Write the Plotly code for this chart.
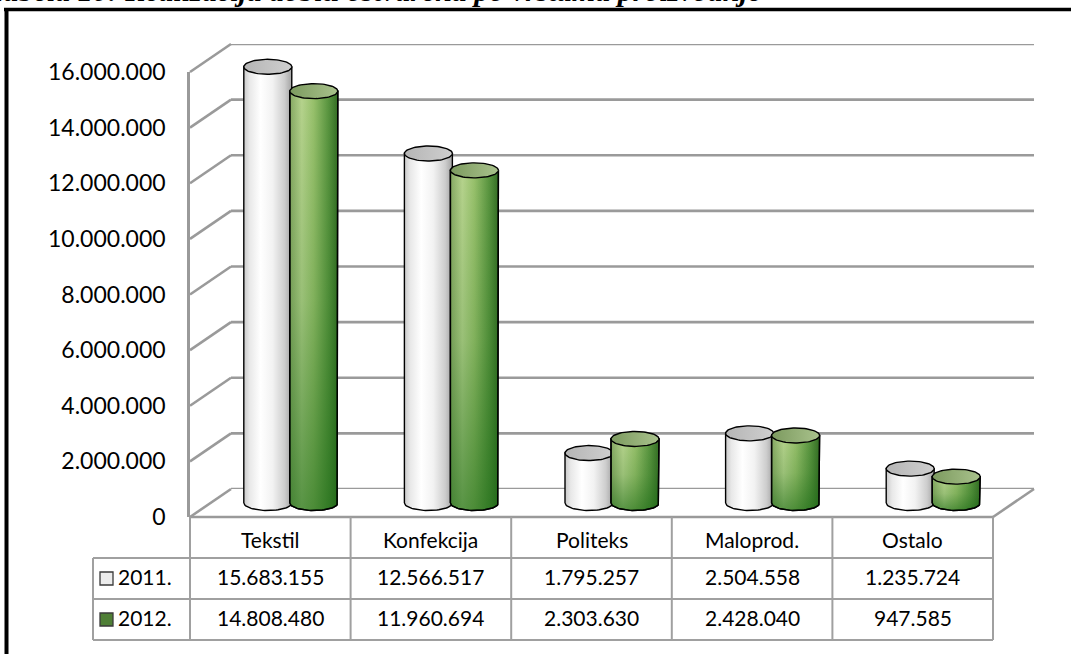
import numpy as np
import plotly.graph_objects as go

# ---- data -------------------------------------------------------------
categories = ["Tekstil", "Konfekcija", "Politeks", "Maloprod.", "Ostalo"]
series_names = ["2011.", "2012."]
values_2011 = [15683155, 12566517, 1795257, 2504558, 1235724]
values_2012 = [14808480, 11960694, 2303630, 2428040, 947585]
y_ticks = [0, 2000000, 4000000, 6000000, 8000000, 10000000, 12000000, 14000000, 16000000]
title_text = "Tabela 10: Realizacija dobiti ostvarena po vrstama proizvodnje"

# ---- page geometry (pixels) -------------------------------------------
W, H = 1071, 654
FLOOR_Y, TOP_Y = 517, 72          # front edge of the floor / 16.000.000
LEFT_X, RIGHT_X = 190, 993        # front edge of the category band
DX, DY = 41, 28                   # depth of the 3-D box
Y_MAX = 16000000
Y_LOW = -800000                   # room under the floor for the cylinder bases
GRID = "#9a9a9a"
FONT = "Lato"
TXT_SHIFT = -11                   # vertical nudge for Lato text boxes


def px(p):
    return p / W


def py(p):
    return 1 - p / H


def fmt(v):
    return f"{v:,}".replace(",", ".")


px_per_cat = (RIGHT_X - LEFT_X) / len(categories)
px_per_val = (FLOOR_Y - TOP_Y) / Y_MAX


def val_to_px(v):
    return FLOOR_Y - v * px_per_val


fig = go.Figure()

# back wall gridlines (frame x/y sits at full depth)
gx, gy = [], []
for tv in y_ticks:
    gx += [-0.5, 4.5, None]
    gy += [tv, tv, None]
fig.add_trace(go.Scatter(x=gx, y=gy, mode="lines", line=dict(color=GRID, width=2.6),
                         hoverinfo="skip", showlegend=False, xaxis="x", yaxis="y"))

# cylinders (frame x3/y3 sits at mid depth)
half_w = 24 / px_per_cat
half_gap = 23 / px_per_cat
ell_b = 7.5 / px_per_val
t = np.linspace(0, np.pi, 40)
t_full = np.linspace(0, 2 * np.pi, 80)

white_body = [[0, "#c9c9c9"], [0.12, "#e8e8e8"], [0.35, "#ffffff"], [0.6, "#f2f2f2"],
              [0.85, "#cdcdcd"], [1, "#a3a3a3"]]
green_body = [[0, "#86a863"], [0.25, "#b6d38d"], [0.5, "#97c06b"], [0.8, "#5a9540"],
              [1, "#346d24"]]
green_shade = [[0, "rgba(25,105,20,0.6)"], [0.5, "rgba(25,105,20,0.18)"], [1, "rgba(25,105,20,0)"]]
white_top = [[0, "#b5b5b5"], [1, "#cfcfcf"]]
green_top = [[0, "#7c9a5f"], [1, "#a9c28c"]]

series = [(values_2011, -half_gap, white_body, None, white_top),
          (values_2012, half_gap, green_body, green_shade, green_top)]

for i in range(len(categories)):
    for vals, off, body_cs, shade_cs, top_cs in series:
        v = vals[i]
        cx = i + off
        bx = [cx - half_w, cx - half_w, cx + half_w, cx + half_w] + list(cx + half_w * np.cos(t))
        by = [0, v, v, 0] + list(-ell_b * np.sin(t))
        fig.add_trace(go.Scatter(x=bx, y=by, mode="lines", fill="toself",
                                 fillgradient=dict(type="horizontal", colorscale=body_cs),
                                 line=dict(color="black", width=1.4),
                                 hoverinfo="skip", showlegend=False, xaxis="x3", yaxis="y3"))
        if shade_cs is not None:
            fig.add_trace(go.Scatter(x=bx, y=by, mode="none", fill="toself",
                                     fillgradient=dict(type="vertical", colorscale=shade_cs),
                                     hoverinfo="skip", showlegend=False, xaxis="x3", yaxis="y3"))
            fig.add_trace(go.Scatter(x=bx, y=by, mode="lines",
                                     line=dict(color="black", width=1.4),
                                     hoverinfo="skip", showlegend=False, xaxis="x3", yaxis="y3"))
        ex = cx + half_w * np.cos(t_full)
        ey = v + ell_b * np.sin(t_full)
        fig.add_trace(go.Scatter(x=ex, y=ey, mode="lines", fill="toself",
                                 fillgradient=dict(type="horizontal", colorscale=top_cs),
                                 line=dict(color="black", width=1.4),
                                 hoverinfo="skip", showlegend=False, xaxis="x3", yaxis="y3"))

shapes = []
# side wall diagonals, one per value tick
for tv in y_ticks:
    yp = val_to_px(tv)
    shapes.append(dict(type="line", xref="paper", yref="paper",
                       x0=px(LEFT_X), x1=px(LEFT_X + DX), y0=py(yp), y1=py(yp - DY),
                       line=dict(color=GRID, width=2.6), layer="below"))
# floor right edge
shapes.append(dict(type="line", xref="paper", yref="paper",
                   x0=px(RIGHT_X), x1=px(RIGHT_X + DX), y0=py(FLOOR_Y), y1=py(FLOOR_Y - DY),
                   line=dict(color=GRID, width=2.6), layer="below"))

# data table grid
TBL = "#a0a0a0"
ROW_Y = [517, 558, 599, 640]
LEG_X = 93
shapes.append(dict(type="line", xref="paper", x0=px(LEFT_X), x1=px(RIGHT_X), yref="paper",
                   y0=py(ROW_Y[0]), y1=py(ROW_Y[0]), line=dict(color=GRID, width=2.6)))
for ry in ROW_Y[1:]:
    shapes.append(dict(type="line", xref="paper", x0=px(LEG_X), x1=px(RIGHT_X), yref="paper",
                       y0=py(ry), y1=py(ry), line=dict(color=TBL, width=2)))
for k in range(len(categories) + 1):
    xk = LEFT_X + k * px_per_cat
    shapes.append(dict(type="line", xref="paper", x0=px(xk), x1=px(xk), yref="paper",
                       y0=py(ROW_Y[0]), y1=py(ROW_Y[3]), line=dict(color=TBL, width=2)))
shapes.append(dict(type="line", xref="paper", x0=px(LEG_X), x1=px(LEG_X), yref="paper",
                   y0=py(ROW_Y[1]), y1=py(ROW_Y[3]), line=dict(color=TBL, width=2)))

# legend keys inside the table
key_fill = ["#ececec", "#4f7f36"]
for r in range(2):
    cy = (ROW_Y[r + 1] + ROW_Y[r + 2]) / 2
    shapes.append(dict(type="rect", xref="paper", yref="paper",
                       x0=px(100), x1=px(113), y0=py(cy - 6.5), y1=py(cy + 6.5),
                       fillcolor=key_fill[r], line=dict(color="#3a3a3a", width=1.3)))

# outer black frame
shapes.append(dict(type="line", xref="paper", yref="paper", x0=px(4), x1=px(W + 5),
                   y0=py(9.5), y1=py(9.5), line=dict(color="black", width=3.5)))
shapes.append(dict(type="line", xref="paper", yref="paper", x0=px(6.5), x1=px(6.5),
                   y0=py(8), y1=py(H + 5), line=dict(color="black", width=4)))

annotations = []
cell_font = dict(family=FONT, size=21, color="black")
for i, c in enumerate(categories):
    annotations.append(dict(x=i, xref="x2", y=py((ROW_Y[0] + ROW_Y[1]) / 2 + 5), yref="paper",
                            yshift=TXT_SHIFT, text=c, showarrow=False, font=cell_font))
    for r, vals in enumerate([values_2011, values_2012]):
        annotations.append(dict(x=i, xref="x2", y=py((ROW_Y[r + 1] + ROW_Y[r + 2]) / 2 + 1),
                                yref="paper", yshift=TXT_SHIFT, text=fmt(vals[i]),
                                showarrow=False, font=cell_font))
for r, name in enumerate(series_names):
    annotations.append(dict(x=px(116), xref="paper", xanchor="left",
                            y=py((ROW_Y[r + 1] + ROW_Y[r + 2]) / 2 + 1), yref="paper",
                            yshift=TXT_SHIFT, text=name, showarrow=False, font=cell_font))
annotations.append(dict(x=px(-14), xref="paper", xanchor="left", y=py(9.5), yref="paper",
                        yanchor="bottom", text=f"<b><i>{title_text}</i></b>", showarrow=False,
                        font=dict(family="Liberation Serif", size=30, color="black")))

hidden = dict(visible=False, showgrid=False, zeroline=False, automargin=False)
fig.update_layout(
    width=W, height=H,
    margin=dict(l=0, r=0, t=0, b=0, autoexpand=False),
    paper_bgcolor="white", plot_bgcolor="rgba(0,0,0,0)",
    separators=",.",
    showlegend=False,
    # back wall frame
    xaxis=dict(domain=[px(LEFT_X + DX), px(RIGHT_X + DX)], range=[-0.5, 4.5], anchor="y", **hidden),
    yaxis=dict(domain=[py(FLOOR_Y - DY), py(TOP_Y - DY)], range=[0, Y_MAX], anchor="x", **hidden),
    # front frame carrying the value axis
    xaxis2=dict(domain=[px(LEFT_X), px(RIGHT_X)], range=[-0.5, 4.5], anchor="y2", **hidden),
    yaxis2=dict(domain=[py(FLOOR_Y), py(TOP_Y)], range=[0, Y_MAX], anchor="x2",
                tickvals=y_ticks, tickformat=",d", showgrid=False, zeroline=False,
                automargin=False, showline=True, linecolor=GRID, linewidth=2.6, ticks="",
                ticklabelstandoff=17, tickfont=dict(family=FONT, size=23, color="black")),
    # mid-depth frame for the cylinders, reaching below the floor for the round bases
    xaxis3=dict(domain=[px(LEFT_X + DX / 2), px(RIGHT_X + DX / 2)], range=[-0.5, 4.5],
                anchor="y3", **hidden),
    yaxis3=dict(domain=[py(FLOOR_Y - DY / 2 - Y_LOW * px_per_val), py(TOP_Y - DY / 2)],
                range=[Y_LOW, Y_MAX], anchor="x3", **hidden),
    shapes=shapes,
    annotations=annotations,
)

fig.write_html("out.html")
